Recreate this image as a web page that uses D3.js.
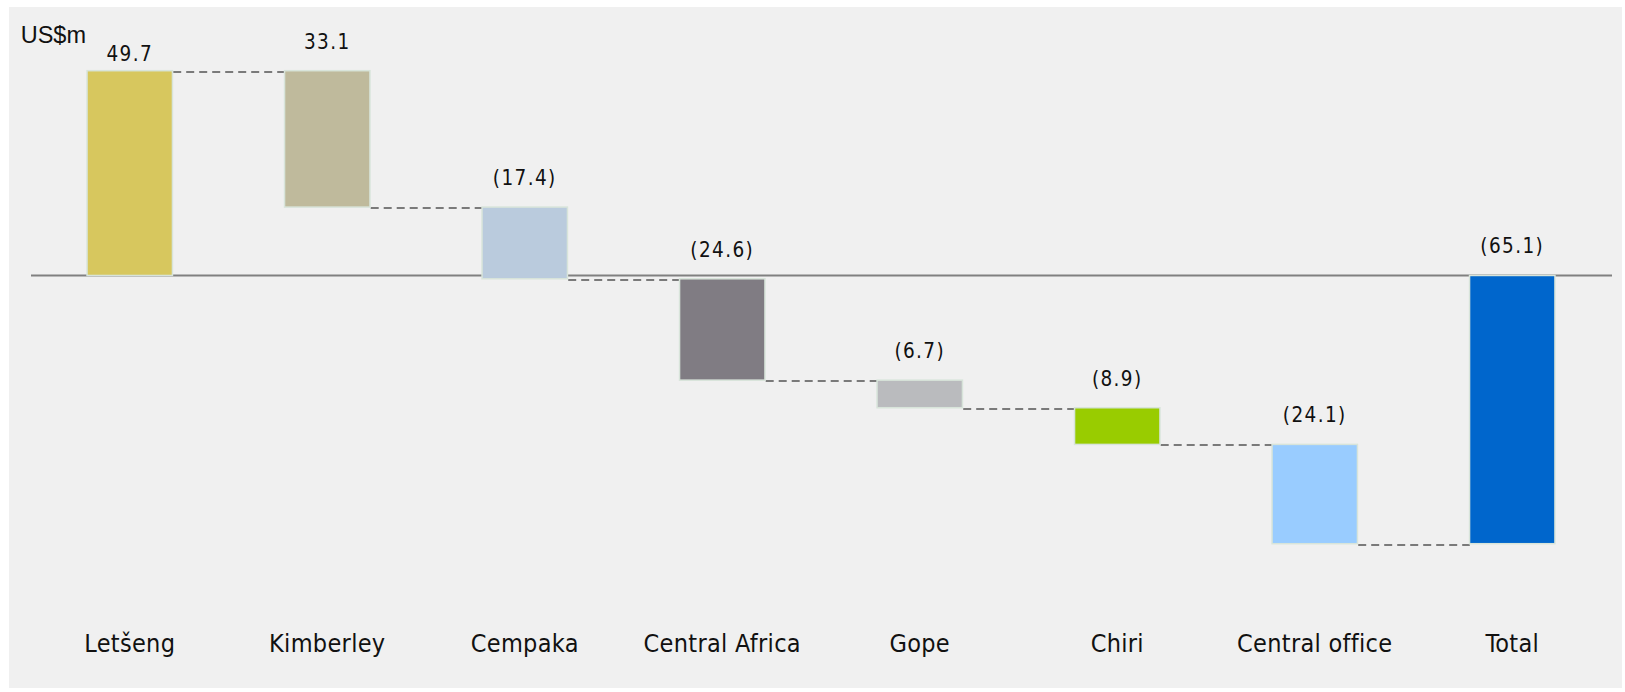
<!DOCTYPE html>
<html>
<head>
<meta charset="utf-8">
<script src="https://cdn.jsdelivr.net/npm/d3@7/dist/d3.min.js"></script>
<style>
  html, body { margin: 0; padding: 0; background: #ffffff; }
  svg { display: block; }
  .cat, .val { font-family: "DejaVu Sans Condensed", "DejaVu Sans", sans-serif; font-stretch: condensed; }
  .unit { font-family: "Liberation Sans", Arial, sans-serif; }
</style>
</head>
<body>
<svg id="chart" width="1625" height="692"></svg>
<script>
// Underlying earnings movement by operation, US$ millions
const categories = ["Letšeng", "Kimberley", "Cempaka", "Central Africa", "Gope", "Chiri", "Central office", "Total"];
const changes = [49.7, -33.1, -17.4, -24.6, -6.7, -8.9, -24.1];
const valueLabels = ["49.7", "33.1", "(17.4)", "(24.6)", "(6.7)", "(8.9)", "(24.1)", "(65.1)"];
const palette = ["#d7c75e", "#bfba9c", "#bacbdd", "#807c83", "#babbbe", "#99cc00", "#99ccff", "#0066cc"];

const svg = d3.select("#chart");

// panel background
svg.append("rect")
  .attr("x", 9).attr("y", 7)
  .attr("width", 1613).attr("height", 681)
  .attr("fill", "#f0f0f0");

// running totals -> floating bar extents
let run = 0;
const bars = changes.map((c, i) => {
  const start = run;
  run = +(run + c).toFixed(1);
  return { cat: categories[i], start, end: run, label: valueLabels[i], color: palette[i] };
});
bars.push({ cat: categories[categories.length - 1], start: 0, end: run, label: valueLabels[valueLabels.length - 1], color: palette[palette.length - 1] });

const x = d3.scaleBand()
  .domain(categories)
  .range([31, 1611])
  .paddingInner(0.56)
  .paddingOuter(0.28);

const levels = bars.flatMap(b => [b.start, b.end]);
const y = d3.scaleLinear()
  .domain([d3.min(levels), d3.max(levels)])
  .range([543.7, 70.7]);

const bw = x.bandwidth();

// zero baseline
svg.append("line")
  .attr("x1", 31).attr("x2", 1612)
  .attr("y1", y(0)).attr("y2", y(0))
  .attr("stroke", "#808080")
  .attr("stroke-width", 2);

// dashed connectors between consecutive bars
const links = bars.slice(0, -1).map((b, i) => ({ from: b.cat, to: bars[i + 1].cat, level: b.end }));
svg.append("g").selectAll("line")
  .data(links)
  .join("line")
  .attr("x1", d => x(d.from) + bw)
  .attr("x2", d => x(d.to) + 1)
  .attr("y1", d => Math.round(y(d.level)) + 1)
  .attr("y2", d => Math.round(y(d.level)) + 1)
  .attr("stroke", "#7a7a7a")
  .attr("stroke-width", 2)
  .attr("stroke-dasharray", "8,5");

// bars
svg.append("g").selectAll("rect")
  .data(bars)
  .join("rect")
  .attr("x", d => x(d.cat) + 0.75)
  .attr("width", bw - 1.5)
  .attr("y", d => y(Math.max(d.start, d.end)))
  .attr("height", d => Math.abs(y(d.start) - y(d.end)))
  .attr("fill", d => d.color)
  .attr("stroke", "#d8e4da")
  .attr("stroke-width", 1.5);

// value labels above each bar
svg.append("g").selectAll("text")
  .data(bars)
  .join("text")
  .attr("class", "val")
  .attr("x", d => x(d.cat) + bw / 2)
  .attr("y", d => y(Math.max(d.start, d.end)) - (d.end > d.start ? 10 : 22))
  .attr("text-anchor", "middle")
  .attr("font-size", 20.5)
  .attr("letter-spacing", 1.4)
  .attr("fill", "#111")
  .text(d => d.label);

// category axis labels
const xAxis = d3.axisBottom(x).tickSize(0).tickPadding(0);
const gx = svg.append("g")
  .attr("transform", "translate(0,651.7)")
  .call(xAxis);
gx.select(".domain").remove();
gx.selectAll("text")
  .attr("class", "cat")
  .attr("dy", 0)
  .attr("y", 0)
  .attr("font-size", 25)
  .attr("letter-spacing", 0.3)
  .attr("fill", "#111");

// unit caption
svg.append("text")
  .attr("class", "unit")
  .attr("x", 20.7)
  .attr("y", 43.3)
  .attr("font-size", 23.5)
  .attr("fill", "#111")
  .text("US$m");
</script>
</body>
</html>
